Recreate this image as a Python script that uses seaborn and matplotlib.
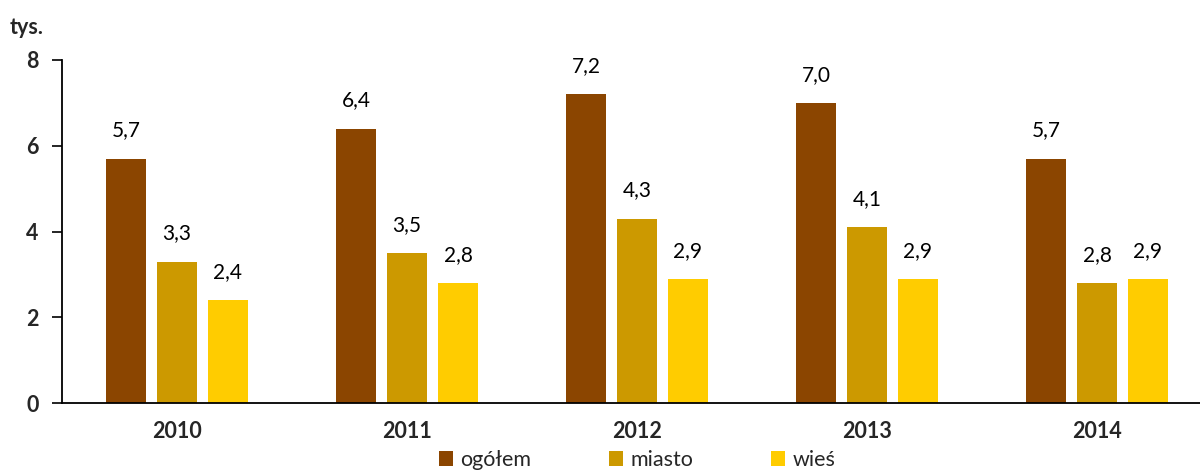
import numpy as np
import pandas as pd
import matplotlib
matplotlib.use("Agg")
import matplotlib.pyplot as plt
import seaborn as sns
from matplotlib.patches import Patch

# Data (thousands)
years = ["2010", "2011", "2012", "2013", "2014"]
series = ["ogółem", "miasto", "wieś"]
ogolem = [5.7, 6.4, 7.2, 7.0, 5.7]
miasto = [3.3, 3.5, 4.3, 4.1, 2.8]
wies = [2.4, 2.8, 2.9, 2.9, 2.9]
colors = ["#8B4500", "#CC9900", "#FFCC00"]
y_ticks = [0, 2, 4, 6, 8]

df = pd.DataFrame({
    "rok": years * 3,
    "seria": [series[0]] * 5 + [series[1]] * 5 + [series[2]] * 5,
    "wartosc": ogolem + miasto + wies,
})

sns.set_theme(style="white")
plt.rcParams["font.family"] = ["Lato", "DejaVu Sans"]

fig = plt.figure(figsize=(12, 4.7), dpi=100)
ax = fig.add_axes([62 / 1200, 67 / 470, 1150 / 1200, 343 / 470])

sns.barplot(data=df, x="rok", y="wartosc", hue="seria", order=years,
            hue_order=series, palette=colors, width=0.665, gap=0.216,
            saturation=1, ax=ax, legend=False, linewidth=0)

# value labels in Polish decimal format
for cont in ax.containers:
    labels = [f"{b.get_height():.1f}".replace(".", ",") for b in cont]
    ax.bar_label(cont, labels=labels, padding=13, fontsize=15, color="black")

ax.set_xlim(-0.5, 4.5)
ax.set_ylim(0, 8)
ax.set_yticks(y_ticks)
ax.set_yticklabels([str(t) for t in y_ticks], fontweight="bold", fontsize=15.5)
ax.set_xticklabels(years, fontweight="bold", fontsize=15.5)
ax.set_xlabel("")
ax.set_ylabel("")
ax.tick_params(axis="y", direction="out", length=7, width=1.2, color="black",
               left=True, pad=10)
ax.tick_params(axis="x", length=0, pad=13)

for side in ["top", "right"]:
    ax.spines[side].set_visible(False)
for side in ["left", "bottom"]:
    ax.spines[side].set_color("black")
    ax.spines[side].set_linewidth(1.3)

fig.text(10 / 1200, 1 - 27 / 470, "tys.", fontweight="bold", fontsize=15.5,
         va="center", ha="left")

handles = [Patch(facecolor=c, edgecolor="none") for c in colors]
fig.legend(handles, series, loc="center", bbox_to_anchor=(637 / 1200, 10 / 470),
           ncol=3, frameon=False, fontsize=15.5, handlelength=0.65,
           handleheight=0.65, handletextpad=0.35, columnspacing=3.6,
           borderaxespad=0, borderpad=0)

fig.savefig("out.png", dpi=100)
